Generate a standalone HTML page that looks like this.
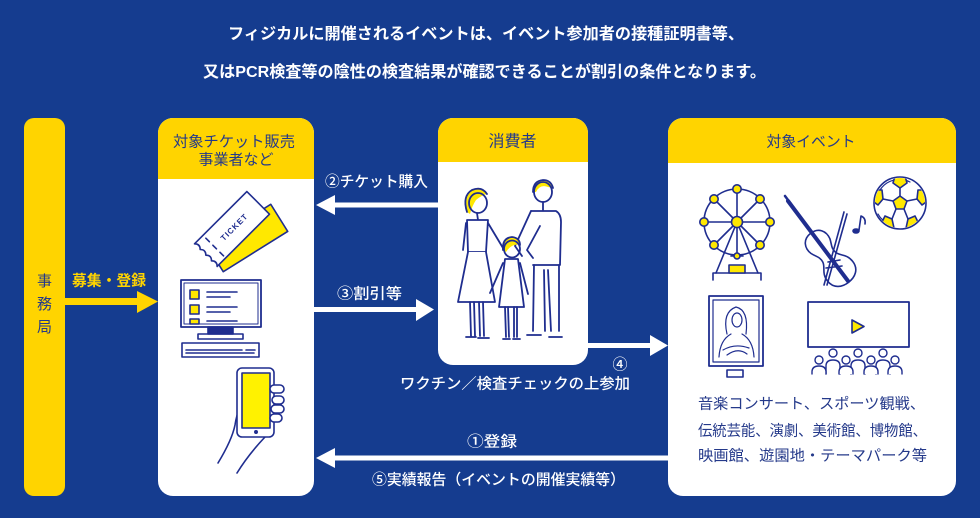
<!DOCTYPE html>
<html><head><meta charset="utf-8"><style>
html,body{margin:0;padding:0;background:#153c8f;}
svg{display:block}
text{font-family:"Liberation Sans","Noto Sans CJK JP",sans-serif;}
</style></head><body>
<svg width="980" height="518" viewBox="0 0 980 518" xmlns="http://www.w3.org/2000/svg">
<defs>
<clipPath id="ballclip"><circle cx="900" cy="203" r="25"/></clipPath>
</defs>
<rect width="980" height="518" fill="#153c8f"/>

<!-- Title -->
<text x="228" y="39" font-size="16" font-weight="700" fill="#fff" textLength="516" lengthAdjust="spacingAndGlyphs">フィジカルに開催されるイベントは、イベント参加者の接種証明書等、</text>
<text x="203" y="77" font-size="16" font-weight="700" fill="#fff" textLength="563" lengthAdjust="spacingAndGlyphs">又はPCR検査等の陰性の検査結果が確認できることが割引の条件となります。</text>

<!-- Left bar -->
<rect x="24" y="118" width="41" height="378" rx="10" fill="#ffd400"/>
<text x="44.5" y="286" font-size="15" fill="#24398a" text-anchor="middle">事</text>
<text x="44.5" y="309" font-size="15" fill="#24398a" text-anchor="middle">務</text>
<text x="44.5" y="332" font-size="15" fill="#24398a" text-anchor="middle">局</text>

<!-- Vendor box -->
<rect x="158" y="118" width="156" height="378" rx="15" fill="#fff"/>
<path d="M158 179 V133 A15 15 0 0 1 173 118 H299 A15 15 0 0 1 314 133 V179 Z" fill="#ffd400"/>
<text x="173" y="146.5" font-size="15" fill="#24398a" textLength="122" lengthAdjust="spacingAndGlyphs">対象チケット販売</text>
<text x="236" y="164.5" font-size="15" fill="#24398a" text-anchor="middle">事業者など</text>

<!-- Consumer box -->
<rect x="438" y="118" width="150" height="247" rx="15" fill="#fff"/>
<path d="M438 162 V133 A15 15 0 0 1 453 118 H573 A15 15 0 0 1 588 133 V162 Z" fill="#ffd400"/>
<text x="512.5" y="146.5" font-size="16" fill="#24398a" text-anchor="middle">消費者</text>

<!-- Event box -->
<rect x="668" y="118" width="288" height="378" rx="15" fill="#fff"/>
<path d="M668 163 V133 A15 15 0 0 1 683 118 H941 A15 15 0 0 1 956 133 V163 Z" fill="#ffd400"/>
<text x="811" y="146.5" font-size="15" fill="#24398a" text-anchor="middle" textLength="89" lengthAdjust="spacingAndGlyphs">対象イベント</text>

<!-- Arrow: 募集・登録 -->
<rect x="65" y="298" width="74" height="7" fill="#ffd400"/>
<polygon points="137,291 158,301.5 137,313" fill="#ffd400"/>
<text x="72" y="285.5" font-size="15" font-weight="700" fill="#ffd400" textLength="74" lengthAdjust="spacingAndGlyphs">募集・登録</text>

<!-- Arrow ② -->
<rect x="333" y="202.5" width="105" height="5" fill="#fff"/>
<polygon points="335,195 316,205 335,215" fill="#fff"/>
<text x="325" y="186.5" font-size="15" font-weight="500" fill="#fff" textLength="103" lengthAdjust="spacingAndGlyphs">②チケット購入</text>

<!-- Arrow ③ -->
<rect x="314" y="307" width="104" height="5" fill="#fff"/>
<polygon points="416,299 434,309.5 416,321" fill="#fff"/>
<text x="337" y="298.5" font-size="15" font-weight="500" fill="#fff" textLength="65" lengthAdjust="spacingAndGlyphs">③割引等</text>

<!-- Arrow ④ -->
<rect x="588" y="343" width="64" height="5" fill="#fff"/>
<polygon points="650,335 668,345.5 650,356" fill="#fff"/>
<text x="620" y="369.5" font-size="15" font-weight="500" fill="#fff" text-anchor="middle">④</text>
<text x="400" y="388.5" font-size="15" font-weight="500" fill="#fff" textLength="230" lengthAdjust="spacingAndGlyphs">ワクチン／検査チェックの上参加</text>

<!-- Arrow ①/⑤ -->
<rect x="333" y="455.5" width="335" height="5" fill="#fff"/>
<polygon points="335,448 316,458 335,468" fill="#fff"/>
<text x="467" y="446.5" font-size="15" font-weight="500" fill="#fff" textLength="50" lengthAdjust="spacingAndGlyphs">①登録</text>
<text x="372" y="484.5" font-size="15" font-weight="500" fill="#fff" textLength="253" lengthAdjust="spacingAndGlyphs">⑤実績報告（イベントの開催実績等）</text>

<!-- Event text -->
<text x="698" y="408.5" font-size="15" fill="#24398a" textLength="227" lengthAdjust="spacingAndGlyphs">音楽コンサート、スポーツ観戦、</text>
<text x="698" y="435.5" font-size="15" fill="#24398a" textLength="229" lengthAdjust="spacingAndGlyphs">伝統芸能、演劇、美術館、博物館、</text>
<text x="698" y="460.5" font-size="15" fill="#24398a" textLength="229" lengthAdjust="spacingAndGlyphs">映画館、遊園地・テーマパーク等</text>

<!-- ===== Vendor illustrations ===== -->
<g stroke="#1f2d8f" stroke-width="1.6" fill="none" stroke-linejoin="round" stroke-linecap="round">
  <g transform="translate(247,238) rotate(-32)">
    <rect x="-38" y="-16" width="76" height="32" fill="#ffe800"/>
  </g>
  <g transform="translate(232,229) rotate(-45)">
    <path d="M-37 -16 H37 V16 H-37 Q-33 12 -37 8 Q-33 4 -37 0 Q-33 -4 -37 -8 Q-33 -12 -37 -16 Z" fill="#fff"/>
    <line x1="-25" y1="-12" x2="-25" y2="-7"/>
    <line x1="-25" y1="-2" x2="-25" y2="3"/>
    <line x1="-25" y1="8" x2="-25" y2="13"/>
    <text x="3" y="3" font-size="8" font-weight="700" fill="#1f2d8f" stroke="none" text-anchor="middle" letter-spacing="1">TICKET</text>
  </g>
  <rect x="181" y="280" width="80" height="47" stroke-width="1.8"/>
  <rect x="184" y="283" width="74" height="41" stroke-width="1"/>
  <rect x="190" y="290" width="9" height="9" fill="#ffe800"/>
  <rect x="190" y="305" width="9" height="9" fill="#ffe800"/>
  <rect x="190" y="319" width="9" height="5" fill="#ffe800"/>
  <line x1="207" y1="292" x2="237" y2="292"/><line x1="207" y1="297" x2="230" y2="297"/>
  <line x1="207" y1="307" x2="237" y2="307"/><line x1="207" y1="312" x2="230" y2="312"/>
  <line x1="207" y1="321" x2="237" y2="321"/>
  <rect x="208" y="327" width="25" height="7" fill="#1f2d8f"/>
  <rect x="198" y="334" width="45" height="5"/>
  <rect x="182" y="343" width="77" height="14"/>
  <line x1="186" y1="350" x2="242" y2="350"/><line x1="186" y1="353" x2="254" y2="353"/>
  <line x1="246" y1="350" x2="255" y2="350"/>
  <path d="M248 397 Q238 405 235 425 Q232 440 218 463" />
  <path d="M237 473 Q248 455 265 437"/>
  <rect x="237" y="368" width="37" height="69" rx="5" fill="#fff"/>
  <rect x="242" y="373" width="28" height="55" fill="#fff200"/>
  <circle cx="256" cy="432" r="1.2" fill="#1f2d8f"/>
  <rect x="270" y="385" width="14" height="8" rx="4" fill="#fff"/>
  <rect x="272" y="396" width="12" height="8" rx="4" fill="#fff"/>
  <rect x="271" y="405" width="13" height="8" rx="4" fill="#fff"/>
  <rect x="270" y="414" width="12" height="8" rx="4" fill="#fff"/>
</g>

<!-- ===== Family ===== -->
<g stroke="#1f2d8f" stroke-width="1.8" fill="none" stroke-linejoin="round" stroke-linecap="round">
  <!-- woman -->
  <path d="M467 212 Q462 196 472 190 Q482 186 487 194 Q482 195 476 200 Q472 206 470 214 Z" fill="#ffe800" stroke="none"/>
  <ellipse cx="478" cy="203" rx="9" ry="10"/>
  <path d="M467 212 Q462 196 472 190 Q482 186 487 194" fill="none"/>
  <line x1="477" y1="213" x2="478" y2="220"/>
  <path d="M467 220 H488 L486 252 H468 Z" fill="#fff"/>
  <path d="M468 252 L458 302 H495 L486 252" fill="#fff"/>
  <path d="M466 223 L463 250"/>
  <path d="M488 223 L503 248"/>
  <path d="M470 302 L471 336 M474 302 L475 336 M479 302 L480 336 M483 302 L484 336"/>
  <path d="M466 337 H476 M478 338 H489"/>
  <!-- man -->
  <path d="M533 192 Q533 181 543 180 Q551 180 553 188 L548 187 Q540 184 536 192 Z" fill="#ffe800" stroke="none"/>
  <ellipse cx="543" cy="192" rx="9" ry="10"/>
  <path d="M533 192 Q533 181 543 180 Q551 180 553 188"/>
  <line x1="543" y1="202" x2="543" y2="210"/>
  <path d="M531 211 H556 Q561 214 561 222 L560 265 H533" fill="#fff"/>
  <path d="M531 211 L515 246 L522 256 M540 226 L527 250 L533 258"/>
  <path d="M534 265 L533 331 M544 270 L545 331 M548 270 L551 331 M559 265 L559 331"/>
  <path d="M527 335 H541 M549 337 H562"/>
  <!-- child -->
  <path d="M503 250 Q502 238 512 237 Q520 238 520 245 Q512 243 506 252 Z" fill="#ffe800" stroke="none"/>
  <ellipse cx="512" cy="249" rx="8" ry="8.5"/>
  <path d="M503 250 Q502 238 512 237 Q520 238 520 245"/>
  <path d="M505 259 H518 L524 307 H499 Z" fill="#fff"/>
  <path d="M503 263 L490 293 M520 263 L528 294"/>
  <path d="M505 307 L506 337 M508 307 L509 337 M514 307 L514 337 M517 307 L517 337"/>
  <path d="M503 339 H510 M513 339 H520"/>
</g>

<!-- ===== Event icons ===== -->
<g stroke="#1f2d8f" stroke-width="1.6" fill="none" stroke-linejoin="round" stroke-linecap="round">
  <circle cx="737" cy="222" r="33"/>
  <g>
    <line x1="737" y1="189" x2="737" y2="255"/>
    <line x1="704" y1="222" x2="770" y2="222"/>
    <line x1="714" y1="199" x2="760" y2="245"/>
    <line x1="760" y1="199" x2="714" y2="245"/>
  </g>
  <line x1="737" y1="222" x2="716" y2="273"/>
  <line x1="737" y1="222" x2="758" y2="273"/>
  <polyline points="713,280 713,273 761,273 761,280"/>
  <rect x="729" y="265" width="16" height="8" fill="#ffe800"/>
  <line x1="731" y1="256" x2="743" y2="256"/>
  <circle cx="737" cy="256" r="3" fill="#ffe800"/>
  <g fill="#ffe800">
    <circle cx="737" cy="189" r="4.2"/>
    <circle cx="704" cy="222" r="4.2"/><circle cx="770" cy="222" r="4.2"/>
    <circle cx="714" cy="199" r="4.2"/><circle cx="760" cy="199" r="4.2"/>
    <circle cx="714" cy="245" r="4.2"/><circle cx="760" cy="245" r="4.2"/>
    <circle cx="737" cy="222" r="5.5"/>
  </g>
  <g transform="translate(829,257) rotate(52)">
    <path d="M-30 0 C-30 -10 -22 -14 -14 -12 C-8 -10 -6 -7 0 -8 C6 -9 8 -16 18 -16 C28 -16 32 -8 32 0 C32 8 28 16 18 16 C8 16 6 9 0 8 C-6 7 -8 10 -14 12 C-22 14 -30 10 -30 0 Z" fill="#fff"/>
  </g>
  <line x1="788" y1="201" x2="848" y2="281" stroke-width="4"/>
  <path d="M785 196 L791 204" stroke-width="2.5"/>
  <line x1="844" y1="212" x2="824" y2="285"/>
  <line x1="847" y1="214" x2="827" y2="285"/>
  <line x1="828" y1="262" x2="840" y2="260"/>
  <line x1="826" y1="268" x2="842" y2="266"/>
  <ellipse cx="856" cy="231" rx="3" ry="2" fill="#1f2d8f"/>
  <path d="M859 230 L861 216 Q866 218 865 224"/>
  <circle cx="900" cy="203" r="26" fill="#fff"/>
  <path d="M880 190 A23 23 0 0 1 910 182" stroke-width="1.2"/>
  <path d="M878 214 A23 23 0 0 0 892 225" stroke-width="1.2"/>
  <g clip-path="url(#ballclip)">
    <polygon points="900,196 907,201 904,209 896,209 893,201" fill="#ffe800"/>
    <polygon points="895,176 905,176 907,183 900,188 893,183" fill="#ffe800"/>
    <polygon points="925,190 929,200 922,205 917,199 918,190" fill="#ffe800"/>
    <polygon points="918,222 914,230 906,228 908,219 915,216" fill="#ffe800"/>
    <polygon points="882,222 886,230 894,228 892,219 885,216" fill="#ffe800"/>
    <polygon points="875,190 871,200 878,205 883,199 882,190" fill="#ffe800"/>
    <path d="M900 196 V188 M907 201 L917 199 M904 209 L908 219 M896 209 L892 219 M893 201 L883 199"/>
  </g>
  <rect x="709" y="296" width="54" height="70" stroke-width="1.8"/>
  <rect x="713" y="300" width="46" height="62" stroke-width="1.2"/>
  <path d="M727 334 Q722 312 736 307 Q749 310 746 334" stroke-width="1.2"/>
  <ellipse cx="737" cy="320" rx="5" ry="7" stroke-width="1.2"/>
  <path d="M719 357 Q720 340 731 334 M742 334 Q753 340 754 357" stroke-width="1.2"/>
  <path d="M723 350 Q735 343 749 348 M727 355 Q738 347 747 354" stroke-width="1.2"/>
  <rect x="727" y="370" width="16" height="7"/>
  <rect x="808" y="302" width="101" height="45" stroke-width="1.8"/>
  <polygon points="852,320 852,333 864,326.5" fill="#ffe800"/>
  <g fill="#fff" stroke-width="1.4">
    <g><circle cx="833" cy="353" r="4"/><path d="M826 374 V366 Q826 360 833 360 Q840 360 840 366 V374"/></g>
    <g><circle cx="858" cy="353" r="4"/><path d="M851 374 V366 Q851 360 858 360 Q865 360 865 366 V374"/></g>
    <g><circle cx="883" cy="353" r="4"/><path d="M876 374 V366 Q876 360 883 360 Q890 360 890 366 V374"/></g>
    <g><circle cx="819" cy="360" r="4"/><path d="M812 374 V372 Q812 366 819 366 Q826 366 826 372 V374"/></g>
    <g><circle cx="846" cy="360" r="4"/><path d="M839 374 V372 Q839 366 846 366 Q853 366 853 372 V374"/></g>
    <g><circle cx="871" cy="360" r="4"/><path d="M864 374 V372 Q864 366 871 366 Q878 366 878 372 V374"/></g>
    <g><circle cx="895" cy="360" r="4"/><path d="M888 374 V372 Q888 366 895 366 Q902 366 902 372 V374"/></g>
  </g>
</g>
</svg>
</body></html>
